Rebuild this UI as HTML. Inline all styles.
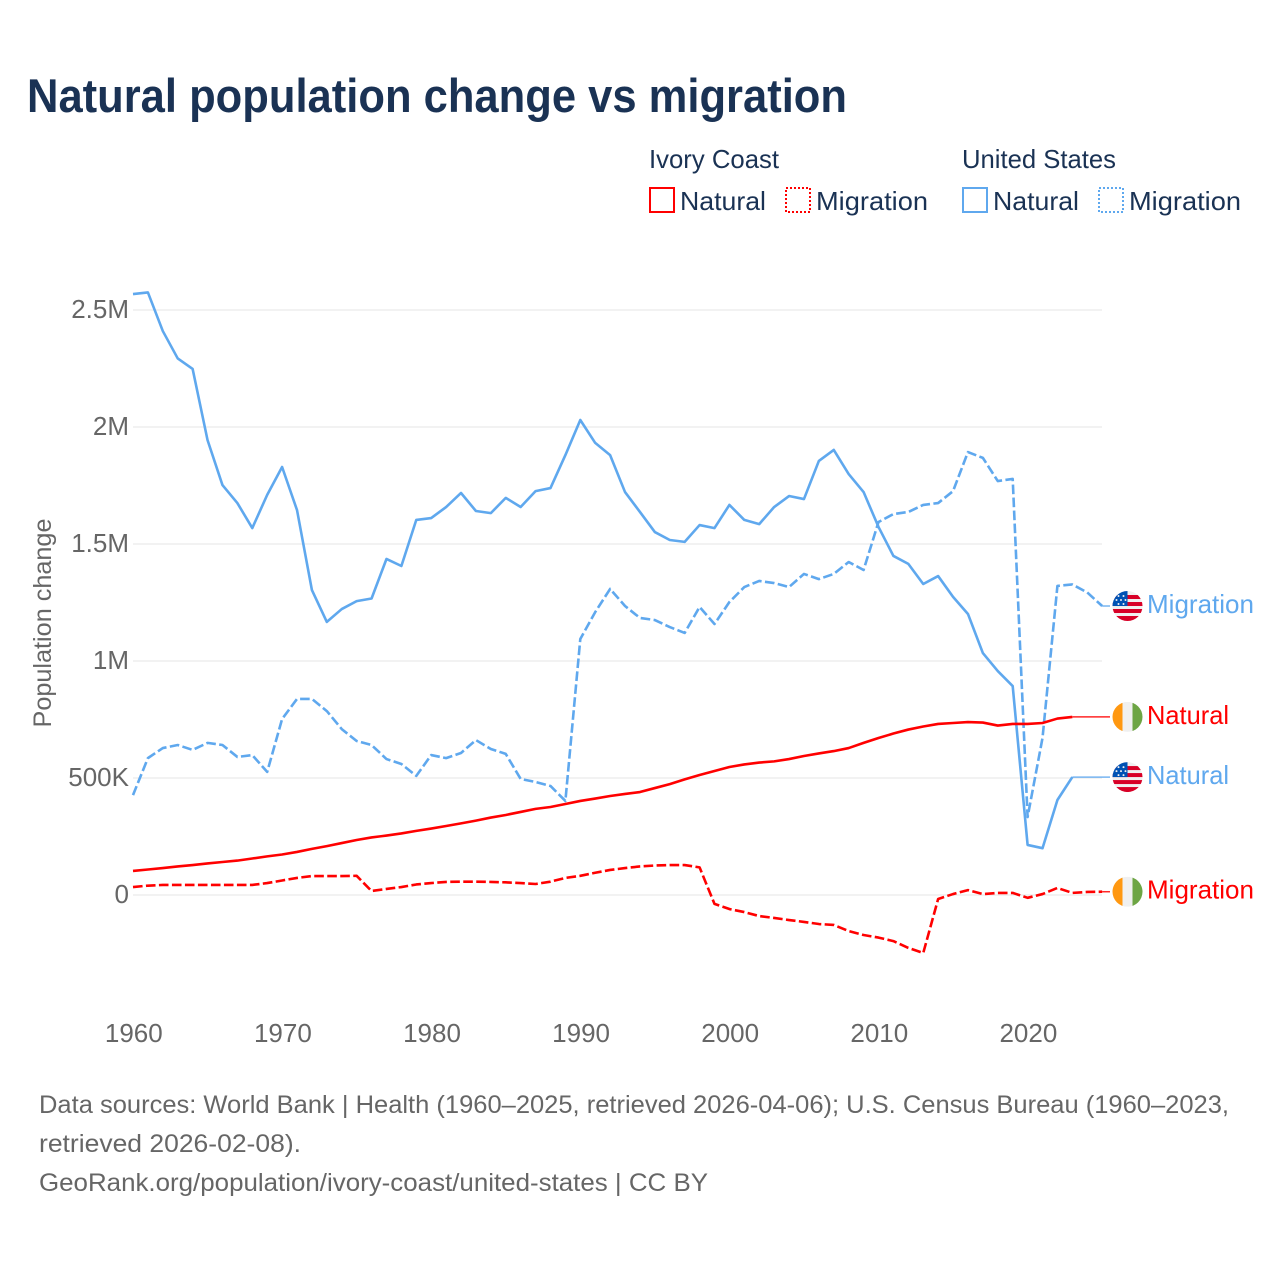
<!DOCTYPE html>
<html lang="en">
<head>
<meta charset="utf-8">
<title>Natural population change vs migration</title>
<style>
html,body{margin:0;padding:0;background:#fff;}
svg{display:block;font-family:"Liberation Sans",sans-serif;}
</style>
</head>
<body>
<svg id="chart" xmlns="http://www.w3.org/2000/svg" width="1280" height="1280" viewBox="0 0 1280 1280">
  <defs>
    <clipPath id="flag-clip"><circle cx="0" cy="0" r="15"/></clipPath>
    <g id="flag-ic" clip-path="url(#flag-clip)">
      <rect x="-15" y="-15" width="10" height="30" fill="#ff9811"/>
      <rect x="-5" y="-15" width="10" height="30" fill="#f0f0f0"/>
      <rect x="5" y="-15" width="10" height="30" fill="#6da544"/>
    </g>
    <g id="flag-us" clip-path="url(#flag-clip)">
      <rect x="-15" y="-15" width="30" height="30" fill="#f0f0f0"/>
      <rect x="-15" y="-11" width="30" height="4" fill="#d80027"/>
      <rect x="-15" y="-4" width="30" height="4" fill="#d80027"/>
      <rect x="-15" y="3" width="30" height="4" fill="#d80027"/>
      <rect x="-15" y="10" width="30" height="5" fill="#d80027"/>
      <rect x="-15" y="-15" width="15" height="15" fill="#0052b4"/>
      <g fill="#f0f0f0">
        <circle cx="-9" cy="-10" r="1"/><circle cx="-4" cy="-10" r="1"/>
        <circle cx="-11" cy="-6" r="1"/><circle cx="-6.500" cy="-6" r="1"/><circle cx="-2" cy="-6" r="1"/>
        <circle cx="-9" cy="-2" r="1"/><circle cx="-4" cy="-2" r="1"/>
      </g>
    </g>
  </defs>

  <text x="27" y="112" font-size="47" font-weight="700" fill="#1a3254" textLength="820" lengthAdjust="spacingAndGlyphs">Natural population change vs migration</text>

  <g font-size="26" fill="#1a3254">
    <text x="649" y="168" textLength="130" lengthAdjust="spacingAndGlyphs">Ivory Coast</text>
    <text x="962" y="168" textLength="154" lengthAdjust="spacingAndGlyphs">United States</text>

    <rect x="650" y="188" width="24" height="24" fill="none" stroke="#ff0000" stroke-width="2"/>
    <text x="680" y="210" textLength="86" lengthAdjust="spacingAndGlyphs">Natural</text>
    <rect x="786" y="188" width="24" height="24" fill="none" stroke="#ff0000" stroke-width="2" stroke-dasharray="2 2"/>
    <text x="816" y="210" textLength="112" lengthAdjust="spacingAndGlyphs">Migration</text>

    <rect x="963" y="188" width="24" height="24" fill="none" stroke="#5fa8ee" stroke-width="2"/>
    <text x="993" y="210" textLength="86" lengthAdjust="spacingAndGlyphs">Natural</text>
    <rect x="1099" y="188" width="24" height="24" fill="none" stroke="#5fa8ee" stroke-width="2" stroke-dasharray="2 2"/>
    <text x="1129" y="210" textLength="112" lengthAdjust="spacingAndGlyphs">Migration</text>
  </g>

  <text transform="translate(51 623) rotate(-90)" text-anchor="middle" font-size="25" fill="#666666" textLength="209" lengthAdjust="spacingAndGlyphs">Population change</text>

  <g id="grid"></g>
  <g id="y-ticks"></g>
  <g id="x-ticks"></g>
  <g id="series"></g>
  <g id="end-labels"></g>

  <g font-size="25" fill="#666666">
    <text x="39" y="1113" textLength="1190" lengthAdjust="spacingAndGlyphs">Data sources: World Bank | Health (1960–2025, retrieved 2026-04-06); U.S. Census Bureau (1960–2023,</text>
    <text x="39" y="1152" textLength="262" lengthAdjust="spacingAndGlyphs">retrieved 2026-02-08).</text>
    <text x="39" y="1191" textLength="669" lengthAdjust="spacingAndGlyphs">GeoRank.org/population/ivory-coast/united-states | CC BY</text>
  </g>
</svg>

<script>
// Values in thousands of people; index 0 is 1960.
const startYear = 1960;
const xTickYears = [1960, 1970, 1980, 1990, 2000, 2010, 2020];
const yTickValues = [0, 500, 1000, 1500, 2000, 2500];
const yTickLabels = ['0', '500K', '1M', '1.5M', '2M', '2.5M'];

const usNatural = [
  2568,2575,2410,2293,2248,1944,1752,1675,1568,1710,
  1829,1645,1303,1167,1222,1256,1267,1436,1406,1603,
  1611,1658,1718,1641,1632,1697,1658,1726,1739,1880,
  2030,1932,1880,1722,1637,1551,1517,1509,1581,1568,
  1667,1603,1585,1658,1705,1692,1855,1902,1799,1722,
  1573,1449,1415,1329,1363,1274,1201,1034,957,893,
  214,200,406,504
];
const usMigration = [
  427,585,628,641,620,650,641,590,598,526,
  752,838,838,786,709,658,641,581,560,509,
  598,585,607,662,624,603,496,483,466,402,
  1094,1209,1308,1235,1184,1175,1145,1120,1231,1158,
  1252,1316,1342,1333,1316,1372,1350,1372,1423,1389,
  1594,1628,1637,1667,1675,1726,1893,1868,1769,1778,
  333,671,1321,1327,1293,1235
];
const ivoryNatural = [
  103,109,115,122,128,135,141,147,156,165,
  173,184,197,209,222,235,246,254,263,274,
  284,295,306,318,331,342,355,368,376,389,
  402,412,423,432,440,457,474,494,513,530,
  547,558,566,571,581,594,605,615,628,650,
  671,690,707,720,731,735,739,737,724,731,
  731,735,754,761
];
const ivoryMigration = [
  34,40,43,43,43,43,43,43,43,51,
  62,73,81,81,81,82,17,26,34,45,
  51,56,57,57,56,54,51,47,57,73,
  82,95,107,115,122,126,128,128,118,-38,
  -60,-73,-90,-98,-107,-115,-124,-128,-154,-171,
  -182,-197,-226,-248,-17,4,21,4,9,9,
  -12,4,30,9,13,14
];

const SVG_NS = 'http://www.w3.org/2000/svg';
const BLUE = '#5fa8ee';
const RED = '#ff0000';
const GRAY = '#666666';

function xOfYear(year) { return 133 + (year - 1960) * 14.91; }
function yOfValue(v) { return 895 - v * 0.234; }
function make(tag, attrs, parent) {
  const el = document.createElementNS(SVG_NS, tag);
  for (const k in attrs) el.setAttribute(k, attrs[k]);
  parent.appendChild(el);
  return el;
}

const grid = document.getElementById('grid');
const yTicks = document.getElementById('y-ticks');
yTickValues.forEach(function (v, i) {
  const y = yOfValue(v);
  const line = make('line', {x1: 133, x2: 1102, y1: y, y2: y, stroke: '#eeeeee', 'stroke-width': 1.5}, grid);
  
  
  const t = make('text', {x: 129, y: y + 8, 'text-anchor': 'end', 'font-size': 26, fill: GRAY}, yTicks);
  
  
  t.textContent = yTickLabels[i];
});

const xTicks = document.getElementById('x-ticks');
xTickYears.forEach(function (yr) {
  const t = make('text', {x: xOfYear(yr) + 0.8, y: 1042, 'text-anchor': 'middle', 'font-size': 26, fill: GRAY}, xTicks);
  
  
  t.textContent = String(yr);
});

const series = document.getElementById('series');
const endLabels = document.getElementById('end-labels');

function drawSeries(values, color, dashed, lineName, connectorName, flagId, flagName, labelText, labelName) {
  const pts = values.map(function (v, i) {
    return xOfYear(startYear + i).toFixed(2) + ',' + yOfValue(v).toFixed(2);
  });
  const lastX = xOfYear(startYear + values.length - 1);
  const lastY = yOfValue(values[values.length - 1]);

  const connector = make('line', {x1: lastX, x2: 1110, y1: lastY, y2: lastY, stroke: color, 'stroke-width': 1.5, 'stroke-opacity': 0.85}, series);
  
  

  const attrs = {points: pts.join(' '), fill: 'none', stroke: color, 'stroke-width': 2.6, 'stroke-linejoin': 'round'};
  if (dashed) attrs['stroke-dasharray'] = '9.6 3.4';
  const line = make('polyline', attrs, series);
  
  

  const flag = make('use', {href: '#' + flagId, transform: 'translate(1127.5 ' + lastY + ')'}, endLabels);
  
  

  const label = make('text', {x: 1147, y: lastY + 7, 'font-size': 26, fill: color, textLength: labelText === 'Natural' ? 82 : 107, lengthAdjust: 'spacingAndGlyphs'}, endLabels);
  
  
  label.textContent = labelText;
}

drawSeries(usNatural, BLUE, false, 'line-united-states-natural', 'connector-united-states-natural', 'flag-us', 'flag-united-states-natural', 'Natural', 'label-united-states-natural');
drawSeries(usMigration, BLUE, true, 'line-united-states-migration', 'connector-united-states-migration', 'flag-us', 'flag-united-states-migration', 'Migration', 'label-united-states-migration');
drawSeries(ivoryMigration, RED, true, 'line-ivory-coast-migration', 'connector-ivory-coast-migration', 'flag-ic', 'flag-ivory-coast-migration', 'Migration', 'label-ivory-coast-migration');
drawSeries(ivoryNatural, RED, false, 'line-ivory-coast-natural', 'connector-ivory-coast-natural', 'flag-ic', 'flag-ivory-coast-natural', 'Natural', 'label-ivory-coast-natural');
</script>
</body>
</html>
